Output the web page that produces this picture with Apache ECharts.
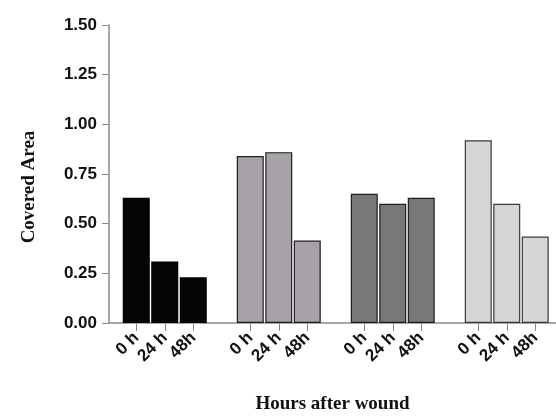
<!DOCTYPE html>
<html>
<head>
<meta charset="utf-8">
<script src="https://cdn.jsdelivr.net/npm/echarts@6/dist/echarts.min.js"></script>
<style>
  html, body { margin: 0; padding: 0; background: #fff; }
  #chart { width: 556px; height: 416px; }
</style>
</head>
<body>
<div id="chart"></div>
<script>
const hourLabels = ["0 h", "24 h", "48h"];
const group1 = [0.63, 0.31, 0.23];
const group2 = [0.84, 0.86, 0.415];
const group3 = [0.65, 0.60, 0.63];
const group4 = [0.92, 0.60, 0.435];
const yTicks = [0, 0.25, 0.5, 0.75, 1.0, 1.25, 1.5];

const groups = [
  { values: group1, color: "#050505", border: "#000000" },
  { values: group2, color: "#a7a2a7", border: "#1e1e1e" },
  { values: group3, color: "#787878", border: "#1e1e1e" },
  { values: group4, color: "#d6d6d6", border: "#3a3a3a" },
];

// 3 bars per group, one empty slot between groups
const categories = [];
const barData = [];
groups.forEach((g, gi) => {
  if (gi > 0) {
    categories.push("");
    barData.push("-");
  }
  g.values.forEach((v, i) => {
    categories.push(hourLabels[i]);
    barData.push({
      value: v,
      itemStyle: { color: g.color, borderColor: g.border, borderWidth: 1.2 },
    });
  });
});

const chart = echarts.init(document.getElementById("chart"), null, { renderer: "canvas" });

const option = {
  animation: false,
  grid: [
    { left: 109, top: 25, width: 447, height: 298, outerBoundsMode: "none" },
    { left: 122, top: 25, width: 427.5, height: 298, outerBoundsMode: "none" },
  ],
  xAxis: [
    {
      gridIndex: 0,
      type: "value",
      min: 0,
      max: 1,
      axisLine: { show: true, onZero: false, lineStyle: { color: "#8a8a8a", width: 1.5 } },
      axisTick: { show: false },
      axisLabel: { show: false },
      splitLine: { show: false },
      name: "Hours after wound",
      nameLocation: "middle",
      nameGap: 72,
      nameTextStyle: {
        fontFamily: "Liberation Serif",
        fontWeight: "bold",
        fontSize: 19,
        color: "#111",
      },
    },
    {
      gridIndex: 1,
      type: "category",
      data: categories,
      axisLine: { show: false },
      axisTick: {
        show: true,
        alignWithLabel: true,
        interval: (idx, val) => val !== "",
        length: 8,
        lineStyle: { color: "#8a8a8a", width: 1 },
      },
      axisLabel: {
        interval: 0,
        rotate: 45,
        margin: 12,
        fontFamily: "Liberation Sans",
        fontWeight: "bold",
        fontSize: 17,
        color: "#111",
      },
    },
  ],
  yAxis: [
    {
      gridIndex: 0,
      type: "value",
      min: yTicks[0],
      max: yTicks[yTicks.length - 1],
      interval: 0.25,
      axisLine: { show: true, lineStyle: { color: "#8a8a8a", width: 1.5 } },
      axisTick: { show: true, length: 7, lineStyle: { color: "#8a8a8a" } },
      splitLine: { show: false },
      axisLabel: {
        formatter: (v) => v.toFixed(2),
        margin: 12,
        fontFamily: "Liberation Sans",
        fontWeight: "bold",
        fontSize: 17,
        color: "#111",
      },
      name: "Covered Area",
      nameLocation: "middle",
      nameGap: 70,
      nameTextStyle: {
        fontFamily: "Liberation Serif",
        fontWeight: "bold",
        fontSize: 19,
        color: "#111",
        padding: [0, 26, 0, 0],
      },
    },
    {
      gridIndex: 1,
      type: "value",
      min: yTicks[0],
      max: yTicks[yTicks.length - 1],
      show: false,
    },
  ],
  series: [
    {
      type: "bar",
      xAxisIndex: 1,
      yAxisIndex: 1,
      barWidth: 27,
      data: barData,
    },
  ],
};

chart.setOption(option);
</script>
</body>
</html>
